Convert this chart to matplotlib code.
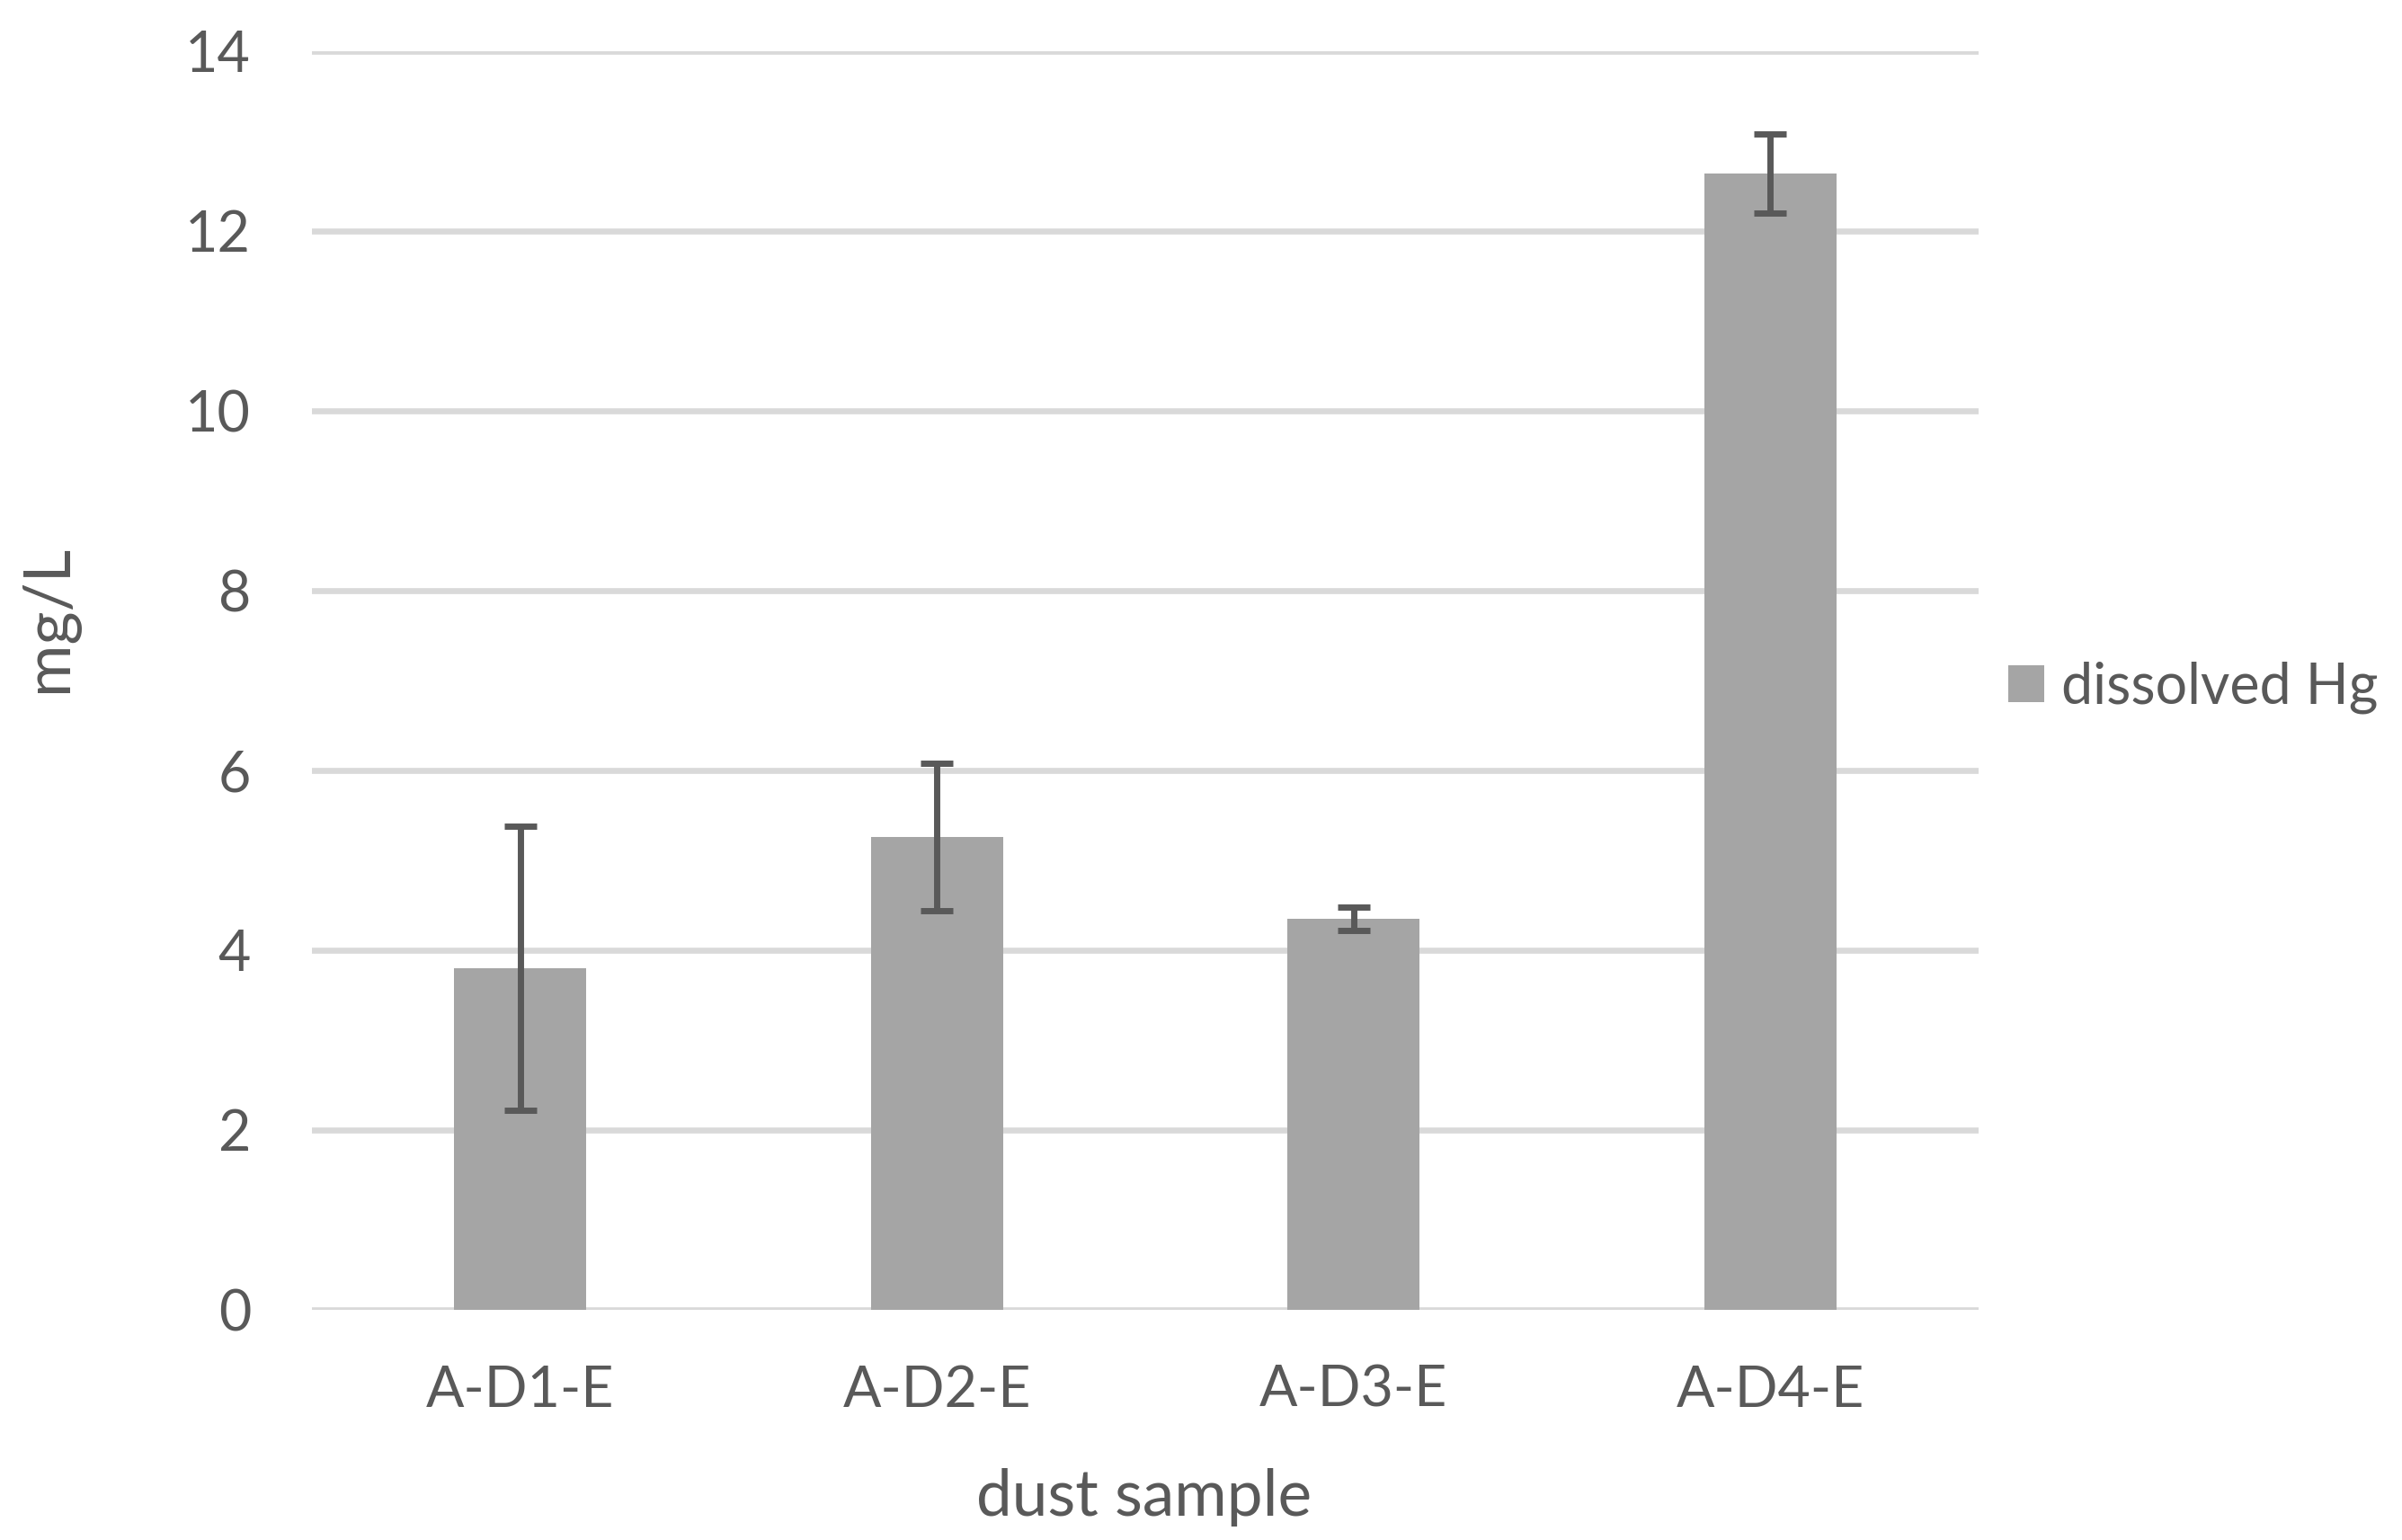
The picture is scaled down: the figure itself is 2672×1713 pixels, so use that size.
import matplotlib.pyplot as plt
import numpy as np

samples = ['A-D1-E', 'A-D2-E', 'A-D3-E', 'A-D4-E']
hg = [3.80, 5.26, 4.35, 12.64]
hg_err = [1.58, 0.82, 0.13, 0.44]
yticks = [0, 2, 4, 6, 8, 10, 12, 14]

plt.rcParams['font.family'] = ['Lato', 'DejaVu Sans']
txt = '#595959'

fig = plt.figure(figsize=(13.36, 8.565), dpi=200)
ax = fig.add_axes([0.1299, 0.1496, 0.6938, 0.8173])

x = np.arange(len(samples))
ax.bar(x, hg, width=0.317, color='#A5A5A5', zorder=2, label='dissolved Hg')
ax.errorbar(x, hg, yerr=hg_err, fmt='none', ecolor=txt, elinewidth=2.5,
            capsize=6.5, capthick=2.5, zorder=3)

ax.set_xlim(-0.5, len(samples) - 0.5)
ax.set_ylim(0, 14)
ax.set_yticks(yticks)
ax.set_xticks(x)
ax.set_xticklabels(samples)
for y in yticks:
    ax.axhline(y, color='#D9D9D9', lw=2.4, zorder=1)
for s in ax.spines.values():
    s.set_visible(False)
ax.tick_params(axis='both', length=0, labelsize=22.6, labelcolor=txt)
ax.tick_params(axis='y', pad=24.5)
ax.tick_params(axis='x', pad=22)

fig.text(0.4764, 0.0158, 'dust sample', ha='center', va='baseline',
         fontsize=25.6, color=txt)
fig.text(0.0201, 0.5984, 'mg/L', ha='center', va='center', rotation=90,
         fontsize=25.6, color=txt)

leg = ax.legend(loc='center left', bbox_to_anchor=(2234 / 2672, 0.5534),
                bbox_transform=fig.transFigure, frameon=False, fontsize=22.6,
                handlelength=0.64, handleheight=0.64, handletextpad=0.3,
                borderpad=0, borderaxespad=0)
for t in leg.get_texts():
    t.set_color(txt)

plt.savefig('out.png', dpi=200)
